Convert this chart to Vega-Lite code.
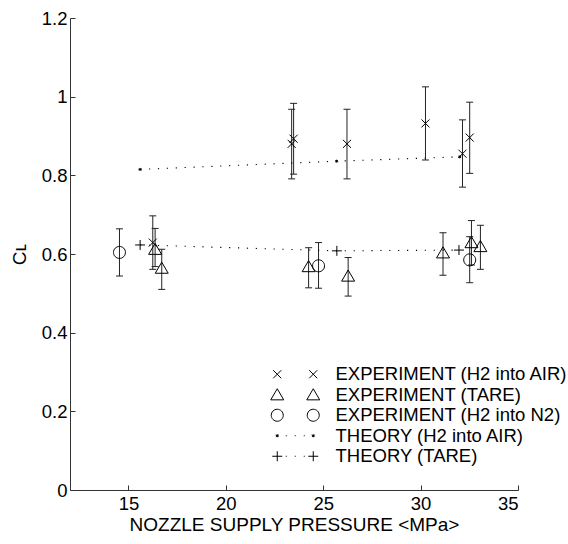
{
  "$schema": "https://vega.github.io/schema/vega-lite/v6.json",
  "width": 448,
  "height": 472,
  "autosize": {"type": "none"},
  "padding": {"left": 70, "top": 18, "right": 50, "bottom": 54},
  "background": "white",
  "config": {
    "view": {"stroke": null},
    "font": "Liberation Sans",
    "axis": {
      "grid": false,
      "tickSize": -5,
      "domainColor": "#333",
      "tickColor": "#333",
      "labelColor": "black",
      "titleColor": "black",
      "labelFontSize": 18.5,
      "titleFontSize": 19,
      "titleFontWeight": "normal",
      "labelFont": "Liberation Sans",
      "titleFont": "Liberation Sans"
    }
  },
  "datasets": {
    "pts": [
      {"series": "EXPERIMENT (H2 into AIR)", "x": 23.38, "y": 0.880, "lo": 0.791, "hi": 0.968},
      {"series": "EXPERIMENT (H2 into AIR)", "x": 23.48, "y": 0.893, "lo": 0.803, "hi": 0.983},
      {"series": "EXPERIMENT (H2 into AIR)", "x": 26.22, "y": 0.880, "lo": 0.791, "hi": 0.968},
      {"series": "EXPERIMENT (H2 into AIR)", "x": 30.25, "y": 0.932, "lo": 0.839, "hi": 1.025},
      {"series": "EXPERIMENT (H2 into AIR)", "x": 32.15, "y": 0.855, "lo": 0.770, "hi": 0.941},
      {"series": "EXPERIMENT (H2 into AIR)", "x": 32.52, "y": 0.896, "lo": 0.805, "hi": 0.986},
      {"series": "EXPERIMENT (H2 into AIR)", "x": 16.25, "y": 0.629, "lo": 0.561, "hi": 0.697},
      {"series": "EXPERIMENT (TARE)", "x": 16.37, "y": 0.612, "lo": 0.568, "hi": 0.665},
      {"series": "EXPERIMENT (TARE)", "x": 16.71, "y": 0.564, "lo": 0.510, "hi": 0.612},
      {"series": "EXPERIMENT (TARE)", "x": 24.25, "y": 0.568, "lo": 0.514, "hi": 0.616},
      {"series": "EXPERIMENT (TARE)", "x": 26.28, "y": 0.544, "lo": 0.493, "hi": 0.591},
      {"series": "EXPERIMENT (TARE)", "x": 31.15, "y": 0.603, "lo": 0.546, "hi": 0.654},
      {"series": "EXPERIMENT (TARE)", "x": 32.61, "y": 0.629, "lo": 0.572, "hi": 0.685},
      {"series": "EXPERIMENT (TARE)", "x": 33.07, "y": 0.619, "lo": 0.561, "hi": 0.673},
      {"series": "EXPERIMENT (H2 into N2)", "x": 14.54, "y": 0.604, "lo": 0.544, "hi": 0.664},
      {"series": "EXPERIMENT (H2 into N2)", "x": 24.76, "y": 0.570, "lo": 0.513, "hi": 0.629},
      {"series": "EXPERIMENT (H2 into N2)", "x": 32.52, "y": 0.585, "lo": 0.527, "hi": 0.644},
      {"series": "THEORY (H2 into AIR)", "x": 15.60, "y": 0.815, "lo": null, "hi": null},
      {"series": "THEORY (H2 into AIR)", "x": 25.69, "y": 0.836, "lo": null, "hi": null},
      {"series": "THEORY (H2 into AIR)", "x": 32.01, "y": 0.847, "lo": null, "hi": null},
      {"series": "THEORY (TARE)", "x": 15.60, "y": 0.623, "lo": null, "hi": null},
      {"series": "THEORY (TARE)", "x": 25.70, "y": 0.608, "lo": null, "hi": null},
      {"series": "THEORY (TARE)", "x": 31.97, "y": 0.610, "lo": null, "hi": null}
    ]
  },
  "data": {"name": "pts"},
  "encoding": {
    "x": {
      "field": "x", "type": "quantitative",
      "scale": {"domain": [12, 35], "nice": false, "zero": false},
      "axis": {"values": [15, 20, 25, 30, 35], "labelPadding": 9, "titlePadding": 3},
      "title": "NOZZLE SUPPLY PRESSURE <MPa>"
    },
    "y": {
      "field": "y", "type": "quantitative",
      "scale": {"domain": [0, 1.2], "nice": false},
      "axis": {"values": [0, 0.2, 0.4, 0.6, 0.8, 1, 1.2], "format": "~g", "labelPadding": 8, "titlePadding": 12},
      "title": "Cʟ"
    }
  },
  "layer": [
    {
      "transform": [{"filter": "datum.lo != null"}],
      "mark": {"type": "rule", "color": "#222", "strokeWidth": 1},
      "encoding": {
        "y": {"field": "lo", "type": "quantitative", "title": "Cʟ"},
        "y2": {"field": "hi"}
      }
    },
    {
      "transform": [{"filter": "datum.lo != null"}],
      "mark": {"type": "point", "shape": "M-1,0L1,0", "size": 49, "filled": false, "color": "#222", "strokeWidth": 1, "opacity": 1},
      "encoding": {"y": {"field": "lo", "type": "quantitative", "title": "Cʟ"}}
    },
    {
      "transform": [{"filter": "datum.lo != null"}],
      "mark": {"type": "point", "shape": "M-1,0L1,0", "size": 49, "filled": false, "color": "#222", "strokeWidth": 1, "opacity": 1},
      "encoding": {"y": {"field": "hi", "type": "quantitative", "title": "Cʟ"}}
    },
    {
      "transform": [{"filter": "datum.lo == null"}],
      "mark": {"type": "line", "color": "black", "strokeWidth": 1.1, "strokeDash": [1.2, 7.7]},
      "encoding": {"detail": {"field": "series"}}
    },
    {
      "mark": {"type": "point", "filled": false, "color": "black", "strokeWidth": 1, "size": 144, "opacity": 1},
      "encoding": {
        "shape": {
          "field": "series",
          "scale": {
            "domain": ["EXPERIMENT (H2 into AIR)", "EXPERIMENT (TARE)", "EXPERIMENT (H2 into N2)", "THEORY (H2 into AIR)", "THEORY (TARE)"],
            "range": [
              "M-0.67,-0.67L0.67,0.67M-0.67,0.67L0.67,-0.67",
              "M-1.08,0.85L0,-1L1.08,0.85Z",
              "M-1,0A1,1 0 1,0 1,0A1,1 0 1,0 -1,0Z",
              "M-0.25,0L0.25,0M0,-0.25L0,0.25M-0.18,-0.18L0.18,0.18M-0.18,0.18L0.18,-0.18",
              "M-0.83,0L0.83,0M0,-0.83L0,0.83"
            ]
          },
          "legend": null
        }
      }
    },
    {
      "mark": {"type": "point", "filled": false, "color": "black", "strokeWidth": 1, "size": 144, "opacity": 0},
      "encoding": {
        "shape": {
          "field": "series",
          "scale": {
            "domain": ["EXPERIMENT (H2 into AIR)", "EXPERIMENT (TARE)", "EXPERIMENT (H2 into N2)", "THEORY (H2 into AIR)", "THEORY (TARE)"],
            "range": [
              "M-3.67,-0.67L-2.33,0.67M-3.67,0.67L-2.33,-0.67M2.33,-0.67L3.67,0.67M2.33,0.67L3.67,-0.67",
              "M-4.08,0.85L-3,-1L-1.92,0.85ZM1.92,0.85L3,-1L4.08,0.85Z",
              "M-4,0A1,1 0 1,0 -2,0A1,1 0 1,0 -4,0ZM2,0A1,1 0 1,0 4,0A1,1 0 1,0 2,0Z",
              "M-3.25,0L-2.75,0M-3,-0.25L-3,0.25M-3.18,-0.18L-2.82,0.18M-3.18,0.18L-2.82,-0.18M2.75,0L3.25,0M3,-0.25L3,0.25M2.82,-0.18L3.18,0.18M2.82,0.18L3.18,-0.18M-1.58,0L-1.42,0M-0.08,0L0.08,0M1.42,0L1.58,0",
              "M-3.83,0L-2.17,0M-3,-0.83L-3,0.83M2.17,0L3.83,0M3,-0.83L3,0.83M-1.58,0L-1.42,0M-0.08,0L0.08,0M1.42,0L1.58,0"
            ]
          },
          "legend": {
            "orient": "none",
            "legendX": 216,
            "legendY": 347,
            "title": null,
            "padding": 0,
            "labelFont": "Liberation Sans",
            "labelFontSize": 18.5,
            "labelColor": "black",
            "labelOffset": 31,
            "labelLimit": 400,
            "rowPadding": 1.5,
            "symbolSize": 144,
            "symbolOpacity": 1,
            "symbolStrokeWidth": 1,
            "symbolStrokeColor": "black",
            "symbolFillColor": "transparent"
          }
        }
      }
    }
  ],
  "resolve": {"scale": {"shape": "independent"}, "legend": {"shape": "independent"}}
}
